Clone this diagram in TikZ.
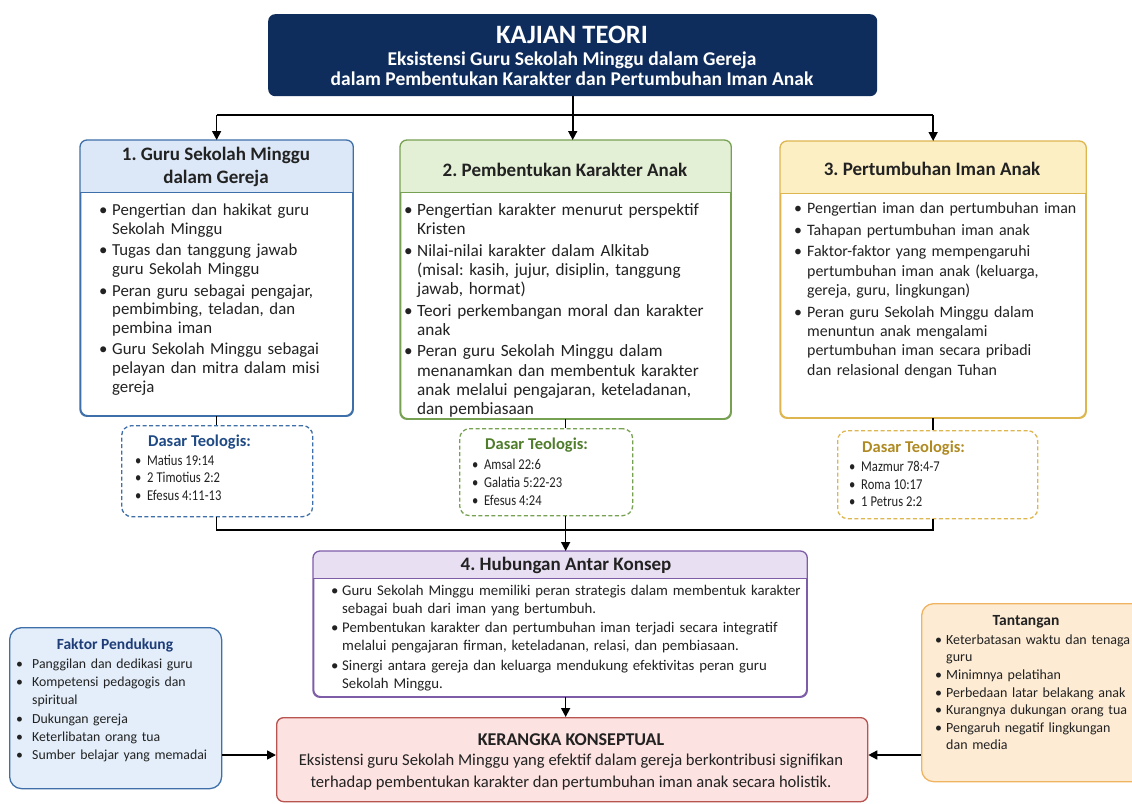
\documentclass[tikz,border=0pt]{standalone}
\usepackage{fontspec}
\setmainfont{Carlito}
\newfontfamily\condf[FakeStretch=0.84]{Carlito}
\usetikzlibrary{arrows.meta}
\frenchspacing
\definecolor{navy}{HTML}{0E2D5C}
\definecolor{boneline}{HTML}{3F6FA8}
\definecolor{bonefill}{HTML}{DCE8F7}
\definecolor{bonetext}{HTML}{1F4A85}
\definecolor{btwoline}{HTML}{77A152}
\definecolor{btwofill}{HTML}{E3F0D6}
\definecolor{btwotext}{HTML}{4F7D2C}
\definecolor{bthreeline}{HTML}{DDB650}
\definecolor{bthreefill}{HTML}{FCEFC4}
\definecolor{bthreetext}{HTML}{B08A22}
\definecolor{bfourline}{HTML}{7D5DA8}
\definecolor{bfourfill}{HTML}{E8DFF3}
\definecolor{krline}{HTML}{B85450}
\definecolor{krfill}{HTML}{FCE2E0}
\definecolor{fkfill}{HTML}{E3EEFA}
\definecolor{fktext}{HTML}{1E3D78}
\definecolor{tnline}{HTML}{F0B460}
\definecolor{tnfill}{HTML}{FDEBD4}
\definecolor{txt}{HTML}{222222}
\newlength\bw
\newcommand\nl{\unskip\nobreak\hfil\break}
\newcommand\itm[1]{\noindent\hangindent=\bw\hangafter=1\hbox to\bw{\textbullet\hfil}#1\par}
\newcommand\hdr[4]{%
  \begin{scope}\clip[rounded corners=7pt] (#1.north west) rectangle (#1.south east);
  \fill[#2] (#1.north west) rectangle ([yshift=-#4]#1.north east);\end{scope}
  \draw[#3,line width=1pt] ([yshift=-#4]#1.north west) -- ([yshift=-#4]#1.north east);
  \draw[#3,line width=1.3pt,rounded corners=7pt] (#1.north west) rectangle (#1.south east);}
\begin{document}
\begin{tikzpicture}[x=1pt,y=-1pt,
  frame/.style={draw, line width=1.3pt, rounded corners=7pt, inner sep=0pt, anchor=north west, fill=white},
  dbox/.style={draw, line width=1.3pt, dash pattern=on 4pt off 2.5pt, rounded corners=10pt, inner sep=0pt, anchor=north west, fill=white},
  body/.style={anchor=north west, inner sep=0pt, align=left, text width=#1, text=txt},
  hfont/.style={font=\bfseries\fontsize{19}{23}\selectfont, text=txt, align=center, inner sep=0pt},
  dtitle/.style={anchor=west, inner sep=0pt, font=\bfseries\fontsize{16.5}{18}\selectfont},
  dlist/.style={body=170pt, font=\condf\fontsize{15}{17.7}\selectfont},
  ln/.style={line width=1.6pt},
  arr/.style={line width=1.6pt, -{Triangle[length=9pt,width=9pt]}}]
\useasboundingbox (0,0) rectangle (1132,803);
\fill[white] (0,0) rectangle (1132,803);

% title
\node[anchor=north west, fill=navy, rounded corners=7pt, minimum width=609pt, minimum height=82pt, inner sep=0pt] (title) at (268,14) {};
\node[font=\bfseries\fontsize{26.5}{28}\selectfont, text=white, inner sep=0pt] (tone) at (572,35) {KAJIAN TEORI};
\node[font=\bfseries\fontsize{19.5}{20}\selectfont, text=white, align=center, inner sep=0pt] (ttwo) at (572,68.5) {Eksistensi Guru Sekolah Minggu dalam Gereja\\dalam Pembentukan Karakter dan Pertumbuhan Iman Anak};

% three main boxes
\node[frame, draw=boneline, minimum width=272pt, minimum height=275pt] (g1) at (80,140) {};
\hdr{g1}{bonefill}{boneline}{52pt}
\node[hfont] (h1) at (216,167) {1. Guru Sekolah Minggu\\dalam Gereja};
\node[body=300pt, font=\fontsize{16.8}{18.8}\selectfont] (c1) at (99,204) {\setlength\parskip{2.5pt}\setlength\bw{13pt}%
\itm{Pengertian dan hakikat guru\nl Sekolah Minggu}
\itm{Tugas dan tanggung jawab\nl guru Sekolah Minggu}
\itm{Peran guru sebagai pengajar,\nl pembimbing, teladan, dan\nl pembina iman}
\itm{Guru Sekolah Minggu sebagai\nl pelayan dan mitra dalam misi\nl gereja}};

\node[frame, draw=btwoline, minimum width=330pt, minimum height=278pt] (g2) at (400,140) {};
\hdr{g2}{btwofill}{btwoline}{52pt}
\node[hfont] (h2) at (565,170) {2. Pembentukan Karakter Anak};
\node[body=360pt, font=\fontsize{17.2}{19.3}\selectfont] (c2) at (404,203.5) {\setlength\parskip{2pt}\setlength\bw{13pt}%
\itm{Pengertian karakter menurut perspektif\nl Kristen}
\itm{Nilai-nilai karakter dalam Alkitab\nl (misal: kasih, jujur, disiplin, tanggung\nl jawab, hormat)}
\itm{Teori perkembangan moral dan karakter\nl anak}
\itm{Peran guru Sekolah Minggu dalam\nl menanamkan dan membentuk karakter\nl anak melalui pengajaran, keteladanan,\nl dan pembiasaan}};

\node[frame, draw=bthreeline, minimum width=305pt, minimum height=276pt] (g3) at (780,141) {};
\hdr{g3}{bthreefill}{bthreeline}{52pt}
\node[hfont] (h3) at (932,169) {3. Pertumbuhan Iman Anak};
\node[body=340pt, font=\fontsize{15.9}{19.3}\selectfont] (c3) at (794,202.5) {\setlength\parskip{2.3pt}\setlength\bw{13pt}%
\itm{Pengertian iman dan pertumbuhan iman}
\itm{Tahapan pertumbuhan iman anak}
\itm{Faktor-faktor yang mempengaruhi\nl pertumbuhan iman anak (keluarga,\nl gereja, guru, lingkungan)}
\itm{Peran guru Sekolah Minggu dalam\nl menuntun anak mengalami\nl pertumbuhan iman secara pribadi\nl dan relasional dengan Tuhan}};

% dasar teologis
\node[dbox, draw=boneline, minimum width=191pt, minimum height=91pt] (d1) at (121,425) {};
\node[dtitle, text=bonetext] (dt1) at (148,442) {Dasar Teologis:};
\node[dlist] (dc1) at (135,454.5) {\setlength\parskip{0pt}\setlength\bw{12pt}\spaceskip=3pt plus 1pt minus 0.5pt%
\itm{Matius 19:14}
\itm{2 Timotius 2:2}
\itm{Efesus 4:11-13}};

\node[dbox, draw=btwoline, minimum width=173pt, minimum height=87pt] (d2) at (459,428) {};
\node[dtitle, text=btwotext] (dt2) at (485,445) {Dasar Teologis:};
\node[dlist] (dc2) at (472,459) {\setlength\parskip{0pt}\setlength\bw{12pt}\spaceskip=3pt plus 1pt minus 0.5pt%
\itm{Amsal 22:6}
\itm{Galatia 5:22-23}
\itm{Efesus 4:24}};

\node[dbox, draw=bthreeline, minimum width=200pt, minimum height=88pt] (d3) at (837,430) {};
\node[dtitle, text=bthreetext] (dt3) at (862,448) {Dasar Teologis:};
\node[dlist] (dc3) at (849,461) {\setlength\parskip{0pt}\setlength\bw{12pt}\spaceskip=3pt plus 1pt minus 0.5pt%
\itm{Mazmur 78:4-7}
\itm{Roma 10:17}
\itm{1 Petrus 2:2}};

% box 4
\node[frame, draw=bfourline, minimum width=493pt, minimum height=145pt] (g4) at (313,551) {};
\hdr{g4}{bfourfill}{bfourline}{27pt}
\node[hfont] (h4) at (566,565) {4. Hubungan Antar Konsep};
\node[body=480pt, font=\fontsize{14.8}{18}\selectfont] (c4) at (331,585) {\setlength\parskip{1.5pt}\setlength\bw{11pt}%
\itm{Guru Sekolah Minggu memiliki peran strategis dalam membentuk karakter\nl sebagai buah dari iman yang bertumbuh.}
\itm{Pembentukan karakter dan pertumbuhan iman terjadi secara integratif\nl melalui pengajaran firman, keteladanan, relasi, dan pembiasaan.}
\itm{Sinergi antara gereja dan keluarga mendukung efektivitas peran guru\nl Sekolah Minggu.}};

% kerangka
\node[frame, draw=krline, fill=krfill, minimum width=591pt, minimum height=84pt] (kr) at (276,717) {};
\node[inner sep=0pt, font=\bfseries\fontsize{18}{20}\selectfont, text=txt] (krt) at (571,740) {KERANGKA KONSEPTUAL};
\node[inner sep=0pt, align=center, font=\fontsize{16.6}{22}\selectfont, text=txt] (krc) at (571,772) {Eksistensi guru Sekolah Minggu yang efektif dalam gereja berkontribusi signifikan\\terhadap pembentukan karakter dan pertumbuhan iman anak secara holistik.};

% faktor pendukung
\node[frame, draw=boneline, fill=fkfill, rounded corners=12pt, minimum width=212pt, minimum height=161pt] (fk) at (9,627) {};
\node[inner sep=0pt, font=\bfseries\fontsize{15.5}{18}\selectfont, text=fktext] (fkt) at (115,645) {Faktor Pendukung};
\node[body=200pt, font=\fontsize{13.8}{18.3}\selectfont] (fkc) at (16,658.5) {\setlength\parskip{0pt}\setlength\bw{16pt}%
\itm{Panggilan dan dedikasi guru}
\itm{Kompetensi pedagogis dan\nl spiritual}
\itm{Dukungan gereja}
\itm{Keterlibatan orang tua}
\itm{Sumber belajar yang memadai}};

% tantangan
\node[frame, draw=tnline, fill=tnfill, rounded corners=12pt, minimum width=240pt, minimum height=178pt] (tn) at (921,603) {};
\node[inner sep=0pt, font=\bfseries\fontsize{15.5}{18}\selectfont, text=txt] (tnt) at (1026,622) {Tantangan};
\node[body=200pt, font=\fontsize{14}{17}\selectfont] (tnc) at (935,635) {\setlength\parskip{0.6pt}\setlength\bw{11pt}%
\itm{Keterbatasan waktu dan tenaga\nl guru}
\itm{Minimnya pelatihan}
\itm{Perbedaan latar belakang anak}
\itm{Kurangnya dukungan orang tua}
\itm{Pengaruh negatif lingkungan\nl dan media}};

% connectors
\coordinate (jt) at (572,115);
\coordinate (jb) at (569,530);
\coordinate (ay) at (0,755);
\draw[arr] (title.south) -- (title.south |- g2.north);
\draw[ln] (jt -| g1.north) -- (jt -| g3.north);
\draw[arr] (jt -| g1.north) -- (g1.north);
\draw[arr] (jt -| g3.north) -- (g3.north);
\draw[ln] (g1.south) -- (g1.south |- d1.north);
\draw[ln] (g2.south) -- (g2.south |- d2.north);
\draw[ln] (g3.south) -- (g3.south |- d3.north);
\draw[ln] (g1.south |- d1.south) -- (g1.south |- jb) -- (jb -| g3.south) -- (g3.south |- d3.south);
\draw[ln] (g2.south |- d2.south) -- (g2.south |- jb);
\draw[arr] (g2.south |- jb) -- (g2.south |- g4.north);
\draw[arr] (g4.south -| g2.south) -- (kr.north -| g2.south);
\draw[arr] (fk.east |- ay) -- (kr.west |- ay);
\draw[arr] (tn.west |- ay) -- (kr.east |- ay);
\end{tikzpicture}
\end{document}
